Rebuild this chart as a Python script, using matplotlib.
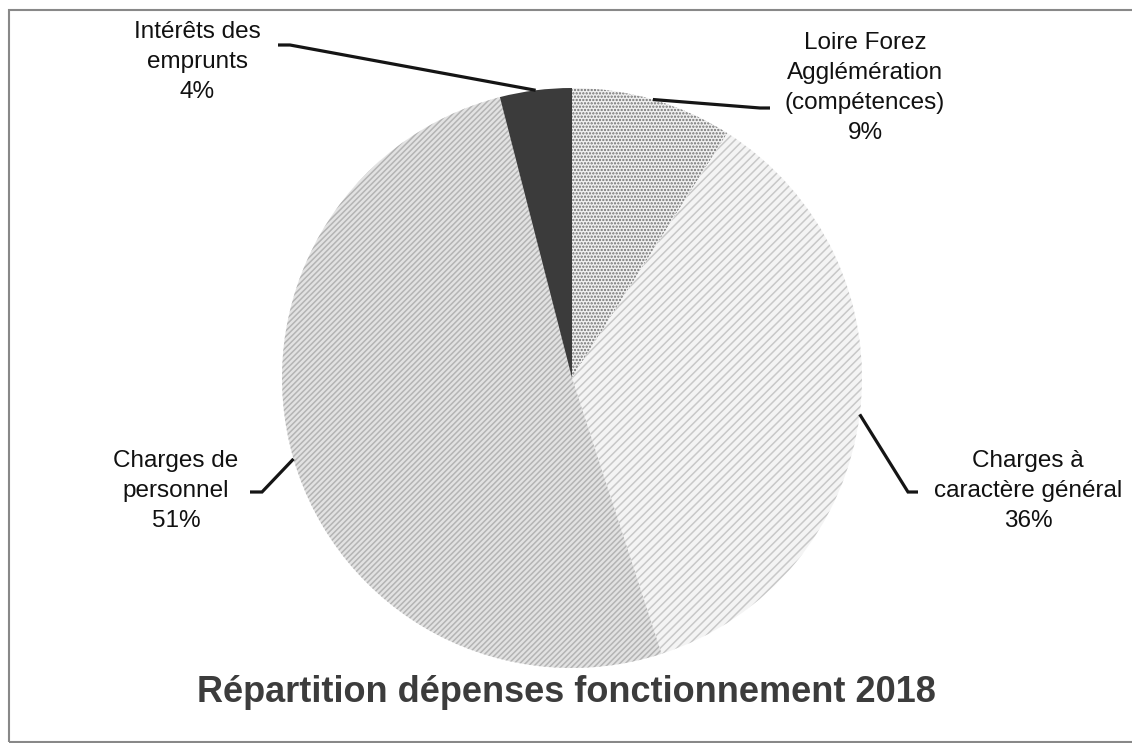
import numpy as np
import matplotlib.pyplot as plt
from matplotlib.patches import Rectangle

plt.rcParams['font.family'] = ['Liberation Sans', 'DejaVu Sans']
plt.rcParams['hatch.linewidth'] = 1.1

# data
labels = ['Loire Forez\nAgglémération\n(compétences)', 'Charges à\ncaractère général',
          'Charges de\npersonnel', 'Intérêts des\nemprunts']
values = [9, 36, 51, 4]
title = 'Répartition dépenses fonctionnement 2018'

# styling for each slice
faces = ['#f0f0f0', '#f4f4f4', '#e2e2e2', '#3b3b3b']
hatches = ['.....', '////', '//////', None]
hatch_cols = ['#707070', '#c8c8c8', '#b4b4b4', '#3b3b3b']

W, H = 1132, 743
fig = plt.figure(figsize=(W/100, H/100), dpi=100)
ax = fig.add_axes([0, 0, 1, 1])

cx, cy, r = 572, H - 378, 290
wedges, _ = ax.pie(values, startangle=90, counterclock=False, center=(cx, cy),
                   radius=r, frame=True,
                   wedgeprops=dict(linewidth=0))
for w, fc, h, hc in zip(wedges, faces, hatches, hatch_cols):
    w.set_facecolor(fc)
    w.set_edgecolor(hc)
    if h:
        w.set_hatch(h)
ax.set_xlim(0, W)
ax.set_ylim(0, H)
ax.set_aspect('equal')
ax.axis('off')

# label text positions and leader elbow (pixel coords, y from top)
text_pos = [(865, 88), (1028, 491), (176, 491), (197, 62)]
elbows = [[(760, 108), (770, 108)], [(908, 492), (918, 492)],
          [(262, 492), (250, 492)], [(290, 45), (278, 45)]]

for w, lab, v, tp, el in zip(wedges, labels, values, text_pos, elbows):
    mid = np.deg2rad((w.theta1 + w.theta2) / 2)
    pts = [(cx + r*np.cos(mid), cy + r*np.sin(mid))] + [(x, H - y) for x, y in el]
    xs, ys = zip(*pts)
    ax.plot(xs, ys, color='#151515', lw=2.3, solid_capstyle='butt', solid_joinstyle='miter')
    ax.text(tp[0], H - tp[1], f'{lab}\n{v}%', ha='center', va='center',
            fontsize=17.5, color='#111111', linespacing=1.47)

ax.text(566, H - 693, title, ha='center', va='center', fontsize=26,
        fontweight='bold', color='#3c3c3c')

ax.add_patch(Rectangle((9, 1), W + 50, H - 11, fill=False, edgecolor='#888888', lw=1.5))

fig.savefig('out.png', dpi=100)
